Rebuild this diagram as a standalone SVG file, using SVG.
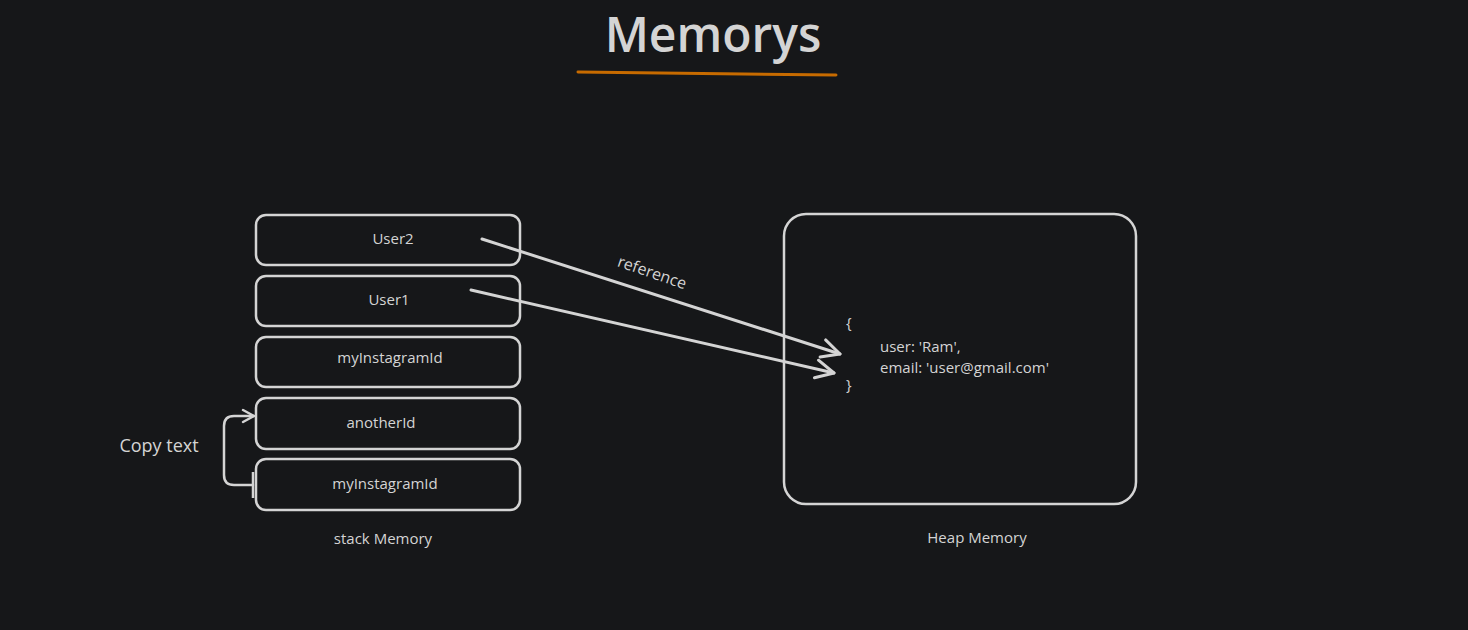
<svg xmlns="http://www.w3.org/2000/svg" width="1468" height="630" viewBox="0 0 1468 630">
<defs>
<style>
.box{fill:none;stroke:#d4d4d4;stroke-width:2.5}
.t{font-family:"Open Sans","Liberation Sans",sans-serif;fill:#d4d4d4;font-size:15px;text-anchor:middle}
.tl{font-family:"Open Sans","Liberation Sans",sans-serif;fill:#d4d4d4;font-size:15px}
.con{fill:none;stroke:#d4d4d4;stroke-width:3;stroke-linecap:round;stroke-linejoin:round}
</style>
<marker id="ah" markerWidth="24" markerHeight="24" refX="20" refY="12" orient="auto" markerUnits="userSpaceOnUse" viewBox="0 0 24 24">
<path d="M2,3 L20,12 L2,21" fill="none" stroke="#d4d4d4" stroke-width="3" stroke-linecap="round" stroke-linejoin="round"/>
</marker>
<marker id="ah2" markerWidth="16" markerHeight="16" refX="13" refY="8" orient="auto" markerUnits="userSpaceOnUse" viewBox="0 0 16 16">
<path d="M2,2 L13,8 L2,14" fill="none" stroke="#d4d4d4" stroke-width="2.5" stroke-linecap="round" stroke-linejoin="round"/>
</marker>
</defs>
<rect width="1468" height="630" fill="#161719"/>
<g id="title">
<text x="713" y="52" style="font-family:'Open Sans','Liberation Sans',sans-serif;font-size:48px;font-weight:600;fill:#d4d4d4;text-anchor:middle">Memorys</text>
<path d="M578,72 L836,75" stroke="#c76b00" stroke-width="3" stroke-linecap="round" fill="none"/>
</g>
<g id="user2"><rect class="box" x="256" y="215" width="264" height="50" rx="10"/><text class="t" x="393" y="244">User2</text></g>
<g id="user1"><rect class="box" x="256" y="276" width="264" height="50" rx="10"/><text class="t" x="389" y="305">User1</text></g>
<g id="myInstagramId1"><rect class="box" x="256" y="337" width="264" height="50" rx="10"/><text class="t" x="390" y="363">myInstagramId</text></g>
<g id="anotherId"><rect class="box" x="256" y="398" width="264" height="51" rx="10"/><text class="t" x="381" y="428">anotherId</text></g>
<g id="myInstagramId2"><rect class="box" x="256" y="459" width="264" height="51" rx="10"/><text class="t" x="385" y="489">myInstagramId</text></g>
<g id="stackLabel"><text class="t" x="383" y="544">stack Memory</text></g>
<g id="heap">
<rect class="box" x="784" y="214" width="352" height="290" rx="22"/>
<text class="tl" x="846" y="328">{</text>
<text class="tl" x="880" y="352">user: 'Ram',</text>
<text class="tl" x="880" y="373">email: 'user@gmail.com'</text>
<text class="tl" x="846" y="390">}</text>
</g>
<g id="heapLabel"><text class="t" x="977" y="543">Heap Memory</text></g>
<g id="copyLabel"><text class="t" x="159" y="452" style="font-size:18px">Copy text</text></g>
<g id="connectors">
<path class="con" d="M482,239 L840,354" marker-end="url(#ah)"/>
<path class="con" d="M471,290 L834,373" marker-end="url(#ah)"/>
<path d="M253,472 L253,498" stroke="#d4d4d4" stroke-width="2.5" fill="none"/>
<path class="con" style="stroke-width:2.5" d="M253,485 L234,485 Q224,485 224,475 L224,426 Q224,416 234,416 L254,416" marker-end="url(#ah2)"/>
<text class="t" x="652" y="278" transform="rotate(19 652 273)" style="font-size:16px">reference</text>
</g>
</svg>
